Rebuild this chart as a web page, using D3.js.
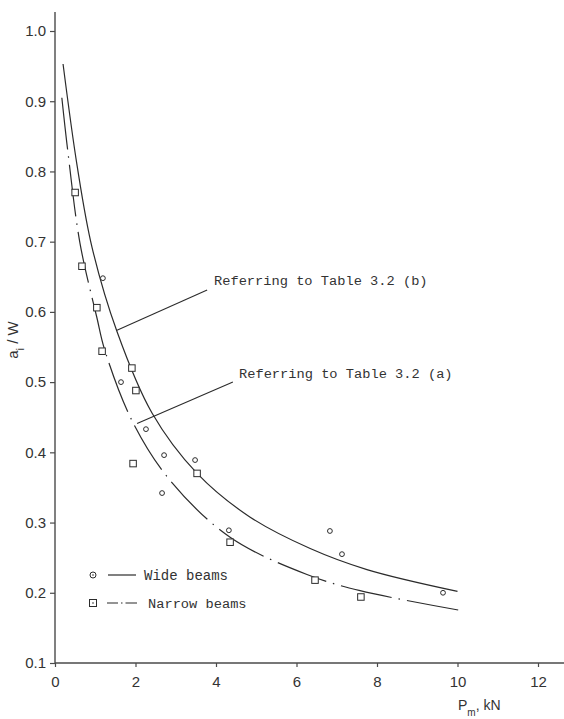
<!DOCTYPE html>
<html>
<head>
<meta charset="utf-8">
<script src="https://cdn.jsdelivr.net/npm/d3@7"></script>
<style>
  body { margin: 0; background: #fff; }
  svg { display: block; }
</style>
</head>
<body>
<div id="chart"></div>
<script>
var wideX = [1.19, 1.64, 2.26, 2.71, 3.48, 2.66, 4.32, 6.83, 7.13, 9.64];
var wideY = [0.648, 0.500, 0.433, 0.396, 0.389, 0.342, 0.289, 0.288, 0.255, 0.200];

var narrowX = [0.50, 0.67, 1.04, 1.17, 1.91, 2.01, 1.94, 3.53, 4.35, 6.46, 7.60];
var narrowY = [0.770, 0.665, 0.606, 0.544, 0.520, 0.488, 0.384, 0.370, 0.272, 0.218, 0.194];

// fitted curves
var wideCurveX = [0.20, 0.55, 0.92, 1.54, 2.41, 3.53, 4.84, 6.34, 7.75, 10.0];
var wideCurveY = [0.953, 0.808, 0.692, 0.572, 0.456, 0.370, 0.308, 0.263, 0.233, 0.202];

var narrowCurveX = [0.17, 0.32, 0.62, 1.04, 1.24, 1.94, 2.86, 4.35, 6.26, 7.58, 10.06];
var narrowCurveY = [0.905, 0.828, 0.698, 0.592, 0.545, 0.442, 0.360, 0.279, 0.226, 0.203, 0.175];

var xTicks = [0, 2, 4, 6, 8, 10, 12];
var yTicks = [0.1, 0.2, 0.3, 0.4, 0.5, 0.6, 0.7, 0.8, 0.9, 1.0];

var labelB = "Referring to Table 3.2 (b)";
var labelA = "Referring to Table 3.2 (a)";
// leader lines: [x1, y1, x2, y2] in data units
var leaderB = [3.78, 0.631, 1.54, 0.574];
var leaderA = [4.42, 0.500, 2.04, 0.441];

var W = 564, H = 719;

var svg = d3.select("#chart").append("svg")
  .attr("width", W)
  .attr("height", H);

var x = d3.scaleLinear().domain([0, 12]).range([55, 538]);
var y = d3.scaleLinear().domain([0.1, 1.0]).range([663, 31]);

var ink = "#2b2b2b";
var axisInk = "#4a4a4a";

// axes
var gx = svg.append("g")
  .attr("transform", "translate(0," + y(0.1) + ")")
  .call(d3.axisBottom(x).tickValues(xTicks).tickSize(4).tickPadding(9).tickFormat(d3.format("d")));
var gy = svg.append("g")
  .attr("transform", "translate(" + x(0) + ",0)")
  .call(d3.axisLeft(y).tickValues(yTicks).tickSize(5).tickPadding(4).tickFormat(d3.format(".1f")));

svg.selectAll(".domain").remove();
svg.selectAll(".tick line").attr("stroke", axisInk).attr("stroke-width", 1.2);
svg.selectAll(".tick text")
  .attr("fill", "#333")
  .style("font-family", "'Liberation Sans', Arial, sans-serif")
  .style("font-size", "15px");

// axis lines run past the tick range like the original
svg.append("line")
  .attr("x1", x(0)).attr("x2", W)
  .attr("y1", y(0.1)).attr("y2", y(0.1))
  .attr("stroke", axisInk).attr("stroke-width", 1.4);
svg.append("line")
  .attr("x1", x(0)).attr("x2", x(0))
  .attr("y1", y(0.1)).attr("y2", 12)
  .attr("stroke", axisInk).attr("stroke-width", 1.4);

// axis titles
var yt = svg.append("text")
  .attr("transform", "translate(18,340) rotate(-90)")
  .attr("text-anchor", "middle")
  .attr("fill", "#333")
  .style("font-family", "'Liberation Sans', Arial, sans-serif")
  .style("font-size", "15px");
yt.append("tspan").text("a");
yt.append("tspan").attr("baseline-shift", "sub").style("font-size", "11px").text("i");
yt.append("tspan").text(" / W");

var xt = svg.append("text")
  .attr("x", 458).attr("y", 710)
  .attr("fill", "#333")
  .style("font-family", "'Liberation Sans', Arial, sans-serif")
  .style("font-size", "14px");
xt.append("tspan").text("P");
xt.append("tspan").attr("baseline-shift", "sub").style("font-size", "10px").text("m");
xt.append("tspan").text(", kN");

// curves
var line = d3.line()
  .x(function(d){ return x(d[0]) })
  .y(function(d){ return y(d[1]) })
  .curve(d3.curveCatmullRom.alpha(0.5));

svg.append("path")
  .datum(d3.zip(wideCurveX, wideCurveY))
  .attr("d", line)
  .attr("fill", "none")
  .attr("stroke", ink)
  .attr("stroke-width", 1.2);

svg.append("path")
  .datum(d3.zip(narrowCurveX, narrowCurveY))
  .attr("d", line)
  .attr("fill", "none")
  .attr("stroke", ink)
  .attr("stroke-width", 1.2)
  .attr("stroke-dasharray", "52,7,1.5,7");

// points
svg.selectAll("circle.wide")
  .data(d3.zip(wideX, wideY))
  .enter()
  .append("circle")
    .attr("class", "wide")
    .attr("cx", function(d){ return x(d[0]) })
    .attr("cy", function(d){ return y(d[1]) })
    .attr("r", 2.4)
    .attr("fill", "#fff")
    .attr("stroke", ink)
    .attr("stroke-width", 1);

var sq = 6.5;
svg.selectAll("rect.narrow")
  .data(d3.zip(narrowX, narrowY))
  .enter()
  .append("rect")
    .attr("class", "narrow")
    .attr("x", function(d){ return x(d[0]) - sq / 2 })
    .attr("y", function(d){ return y(d[1]) - sq / 2 })
    .attr("width", sq)
    .attr("height", sq)
    .attr("fill", "#fff")
    .attr("stroke", ink)
    .attr("stroke-width", 1);

// annotations
var mono = "'Liberation Mono', 'Courier New', monospace";
[[leaderB, labelB, 214, 285], [leaderA, labelA, 239, 378]].forEach(function(a) {
  var l = a[0];
  svg.append("line")
    .attr("x1", x(l[0])).attr("y1", y(l[1]))
    .attr("x2", x(l[2])).attr("y2", y(l[3]))
    .attr("stroke", ink)
    .attr("stroke-width", 1.1);
  svg.append("text")
    .attr("x", a[2]).attr("y", a[3])
    .attr("fill", "#333")
    .style("font-family", mono)
    .style("font-size", "13.7px")
    .text(a[1]);
});

// legend
var lg = svg.append("g");
lg.append("circle").attr("cx", 93).attr("cy", 575).attr("r", 3)
  .attr("fill", "#fff").attr("stroke", ink);
lg.append("circle").attr("cx", 93).attr("cy", 575).attr("r", 0.8).attr("fill", ink);
lg.append("line").attr("x1", 108).attr("x2", 136).attr("y1", 575).attr("y2", 575)
  .attr("stroke", ink).attr("stroke-width", 1.2);
lg.append("text").attr("x", 144).attr("y", 580)
  .attr("fill", "#333").style("font-family", mono).style("font-size", "14px")
  .text("Wide beams");

lg.append("rect").attr("x", 89.5).attr("y", 599.5).attr("width", 7).attr("height", 7)
  .attr("fill", "#fff").attr("stroke", ink);
lg.append("circle").attr("cx", 93).attr("cy", 603).attr("r", 0.8).attr("fill", ink);
lg.append("line").attr("x1", 107).attr("x2", 137).attr("y1", 603).attr("y2", 603)
  .attr("stroke", ink).attr("stroke-width", 1.2)
  .attr("stroke-dasharray", "11,3,1.5,3,12");
lg.append("text").attr("x", 148).attr("y", 608)
  .attr("fill", "#333").style("font-family", mono).style("font-size", "13.7px")
  .text("Narrow beams");
</script>
</body>
</html>
